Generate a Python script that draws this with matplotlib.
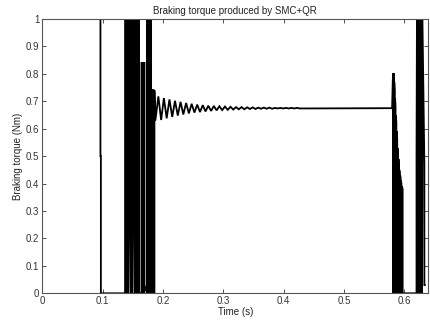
import numpy as np
import matplotlib
matplotlib.use('Agg')
import matplotlib.pyplot as plt

plt.rcParams['font.family'] = ['Liberation Sans', 'DejaVu Sans']

# --- data ---
# start: torque at 1 until ~0.0965 s, then a short step to 0.5 and down to 0
start_t = [0.0, 0.0965, 0.0965, 0.0972, 0.0972]
start_v = [1.0, 1.0, 0.5, 0.5, 0.0]

# first chattering burst: stroke times with the low/high end of each stroke
burst1_t = [0.1375, 0.1385, 0.1395, 0.1405, 0.1415, 0.1425, 0.1445, 0.1465,
            0.1475, 0.1485, 0.1495, 0.1515, 0.1535, 0.1545, 0.1555, 0.1565,
            0.1575, 0.1585, 0.1595, 0.1605, 0.1645, 0.1655, 0.1665, 0.1675,
            0.1685, 0.1695, 0.1735, 0.1745, 0.1755, 0.1765, 0.1775, 0.1785,
            0.1795, 0.1805, 0.1820, 0.1830, 0.1840, 0.1850, 0.1860]
burst1_lo = [0, 0, 0, 0, 0, 0, 0.5, 0, 0, 0, 0, 0.5, 0, 0, 0, 0, 0, 0, 0, 0,
             0, 0, 0.15, 0, 0, 0.03, 0, 0, 0, 0, 0, 0, 0, 0,
             0, 0, 0, 0, 0]
burst1_hi = [1, 1, 1, 1, 1, 1, 1, 1, 1, 1, 1, 1, 1, 1, 1, 1, 1, 1, 1, 1,
             0.84, 0.84, 0.84, 0.84, 0.84, 0.84, 1, 1, 0.47, 1, 1, 1, 1, 1,
             0.74, 0.74, 0.74, 0.74, 0.74]

# damped oscillation around the steady value
peak_t = [0.1925, 0.2017, 0.2109, 0.2201, 0.2293, 0.2385, 0.2477, 0.2569,
          0.2661, 0.2753, 0.2845, 0.2937, 0.3029, 0.3121, 0.3213, 0.3305,
          0.3397, 0.3489, 0.3581, 0.3673, 0.3765, 0.3857, 0.3949, 0.4041,
          0.4133, 0.4225]
peak_v = [0.718, 0.712, 0.707, 0.702, 0.698, 0.694, 0.691, 0.688, 0.686,
          0.684, 0.683, 0.682, 0.681, 0.680, 0.679, 0.679, 0.678, 0.678,
          0.677, 0.677, 0.677, 0.676, 0.676, 0.676, 0.676, 0.676]
trough_t = [0.1971, 0.2063, 0.2155, 0.2247, 0.2339, 0.2431, 0.2523, 0.2615,
            0.2707, 0.2799, 0.2891, 0.2983, 0.3075, 0.3167, 0.3259, 0.3351,
            0.3443, 0.3535, 0.3627, 0.3719, 0.3811, 0.3903, 0.3995, 0.4087,
            0.4179, 0.4271]
trough_v = [0.632, 0.638, 0.643, 0.648, 0.652, 0.656, 0.659, 0.661, 0.663,
            0.665, 0.667, 0.668, 0.669, 0.670, 0.671, 0.671, 0.672, 0.672,
            0.673, 0.673, 0.673, 0.674, 0.674, 0.674, 0.674, 0.674]
settle_t = [0.1860, 0.1875]
settle_v = [0.74, 0.63]
steady_v = 0.675
steady_end = 0.5800

# second burst near the end of braking
rise_t = [0.5812, 0.5830]
rise_v = [0.78, 0.80]
burst2_t = [0.5815, 0.5822, 0.5829, 0.5836, 0.5843, 0.5850, 0.5857, 0.5864,
            0.5871, 0.5878, 0.5885, 0.5892, 0.5899, 0.5906, 0.5913, 0.5920,
            0.5927, 0.5934, 0.5941, 0.5948, 0.5955, 0.5962, 0.5975]
burst2_lo = [0] * 23
burst2_hi = [0.80, 0.80, 0.79, 0.77, 0.74, 0.71, 0.68, 0.65, 0.62, 0.59,
             0.56, 0.53, 0.51, 0.49, 0.47, 0.45, 0.44, 0.43, 0.42, 0.41,
             0.40, 0.39, 0.38]

# third burst just before the end of the record
burst3_t = [0.6205, 0.6212, 0.6219, 0.6226, 0.6233, 0.6240, 0.6247, 0.6254,
            0.6261, 0.6268, 0.6275, 0.6282, 0.6289, 0.6296, 0.6303]
burst3_lo = [0, 0, 0, 0, 0, 0, 0, 0, 0, 0, 0, 0, 0, 0, 0.47]
burst3_hi = [0.5, 1, 1, 1, 1, 1, 1, 1, 1, 1, 1, 1, 1, 1, 1]
tail_t = [0.6335, 0.6335, 0.6342]
tail_v = [0.47, 0.03, 0.03]


def strokes(ts, lo, hi, first_up=True):
    # turn a list of vertical strokes into one polyline (alternating direction)
    x, y = [], []
    up = first_up
    for t, a, b in zip(ts, lo, hi):
        x += [t, t]
        y += [a, b] if up else [b, a]
        up = not up
    return x, y


b1x, b1y = strokes(burst1_t, burst1_lo, burst1_hi)
b2x, b2y = strokes(burst2_t, burst2_lo, burst2_hi, first_up=False)
b3x, b3y = strokes(burst3_t, burst3_lo, burst3_hi)

osc_x, osc_y = [], []
for tp, vp, tt, vt in zip(peak_t, peak_v, trough_t, trough_v):
    osc_x += [tp, tt]
    osc_y += [vp, vt]

t = (start_t + [0.1375] + b1x + settle_t + osc_x + [steady_end] + rise_t
     + b2x + [0.6205] + b3x + tail_t)
v = (start_v + [0.0] + b1y + settle_v + osc_y + [steady_v] + rise_v
     + b2y + [0.0] + b3y + tail_v)

fig = plt.figure(figsize=(4.31, 3.23), dpi=100)
ax = fig.add_axes([0.098, 0.092, 0.8957, 0.849])
ax.plot(t, v, color='black', lw=1.3, solid_joinstyle='miter')

ax.set_xlim(0, 0.64)
ax.set_ylim(0, 1)
ax.set_xticks([0, 0.1, 0.2, 0.3, 0.4, 0.5, 0.6])
ax.set_xticklabels(['0', '0.1', '0.2', '0.3', '0.4', '0.5', '0.6'])
ax.set_yticks(np.round(np.arange(0, 1.01, 0.1), 1))
ax.set_yticklabels(['0', '0.1', '0.2', '0.3', '0.4', '0.5', '0.6', '0.7',
                    '0.8', '0.9', '1'])
ax.tick_params(direction='in', length=3, width=0.6, top=True, right=True,
               labelsize=7, colors='#333333', pad=2)
for s in ax.spines.values():
    s.set_color('#555555')
    s.set_linewidth(0.8)

ax.set_title('Braking torque produced by SMC+QR', fontsize=7, color='#222222', pad=4)
ax.set_xlabel('Time (s)', fontsize=7, color='#222222', labelpad=1)
ax.set_ylabel('Braking torque (Nm)', fontsize=7, color='#222222', labelpad=2)

fig.savefig('out.png', dpi=100)
